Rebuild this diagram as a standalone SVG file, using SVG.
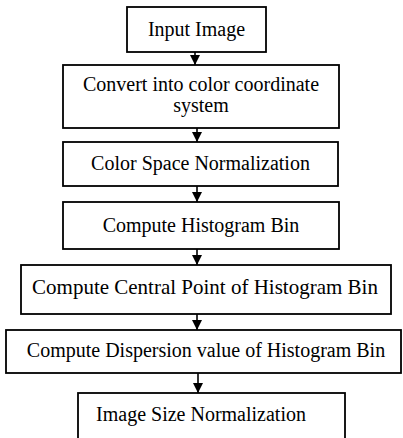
<svg xmlns="http://www.w3.org/2000/svg" width="403" height="438" viewBox="0 0 403 438">
<style>
.box{fill:#fff;stroke:#000;stroke-width:1.8}
.t{font-family:"Liberation Serif","Times New Roman",serif;font-size:20px;fill:#000;text-anchor:middle}
.c{stroke:#000;stroke-width:1.6;fill:none;marker-end:url(#ah)}
</style>
<defs>
<marker id="ah" markerWidth="12" markerHeight="12" refX="11" refY="6" orient="auto" markerUnits="userSpaceOnUse">
<path d="M1,1 L11,6 L1,11 Z" fill="#000"/>
</marker>
</defs>
<rect width="403" height="438" fill="#fff"/>
<g id="connectors">
<line class="c" x1="195" y1="52" x2="195" y2="65"/>
<line class="c" x1="197" y1="128" x2="197" y2="142"/>
<line class="c" x1="197" y1="186" x2="197" y2="202"/>
<line class="c" x1="197" y1="249" x2="197" y2="265"/>
<line class="c" x1="197" y1="314" x2="197" y2="330"/>
<line class="c" x1="198" y1="373" x2="198" y2="393"/>
</g>
<g id="n1"><rect class="box" x="127" y="7" width="139" height="45"/><text class="t" x="196.5" y="36">Input Image</text></g>
<g id="n2"><rect class="box" x="63" y="65" width="276" height="63"/><text class="t" x="201" y="91">Convert into color coordinate</text><text class="t" x="201" y="112">system</text></g>
<g id="n3"><rect class="box" x="63" y="142" width="275" height="44"/><text class="t" x="200.5" y="170">Color Space Normalization</text></g>
<g id="n4"><rect class="box" x="63" y="202" width="276" height="47"/><text class="t" x="201" y="232">Compute Histogram Bin</text></g>
<g id="n5"><rect class="box" x="21" y="265" width="370" height="49"/><text class="t" x="205" y="294" style="font-size:21px">Compute Central Point of Histogram Bin</text></g>
<g id="n6"><rect class="box" x="6" y="330" width="395" height="43"/><text class="t" x="206" y="357">Compute Dispersion value of Histogram Bin</text></g>
<g id="n7"><rect class="box" x="78" y="393" width="267" height="60"/><text class="t" x="201" y="421">Image Size Normalization</text></g>
</svg>
